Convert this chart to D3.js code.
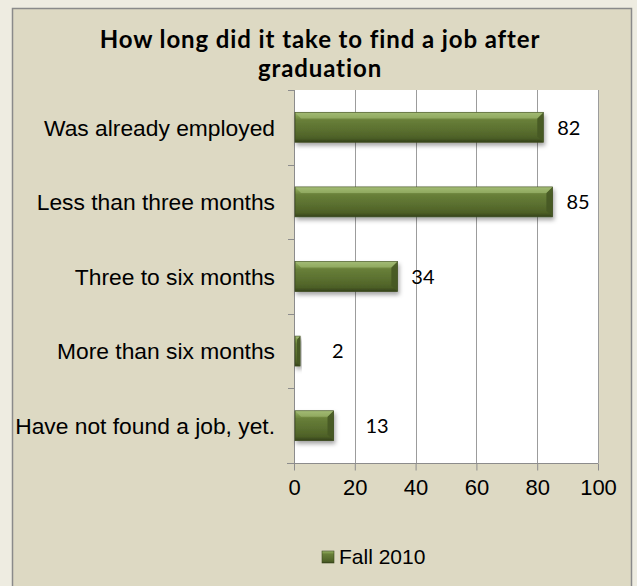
<!DOCTYPE html>
<html>
<head>
<meta charset="utf-8">
<script src="https://cdn.jsdelivr.net/npm/d3@7.9.0/dist/d3.min.js"></script>
<style>
  html, body { margin: 0; padding: 0; background: #eeece1; }
  svg { display: block; }
</style>
</head>
<body>
<svg id="chart" width="637" height="586"></svg>
<script>
// chart data
const categories = [
  "Was already employed",
  "Less than three months",
  "Three to six months",
  "More than six months",
  "Have not found a job, yet."
];
const values = [82, 85, 34, 2, 13];
const xTicks = [0, 20, 40, 60, 80, 100];
const seriesName = "Fall 2010";
const titleLines = ["How long did it take to find a job after", "graduation"];

const svg = d3.select("#chart");

// plot area
const plot = { left: 294, right: 598, top: 90, bottom: 463 };

const defs = svg.append("defs");

let grad = defs.append("linearGradient")
    .attr("id", "barGrad")
    .attr("x1", 0).attr("y1", 0).attr("x2", 0).attr("y2", 1);
grad.append("stop").attr("offset", "0%").attr("stop-color", "#9bb46e");
grad.append("stop").attr("offset", "14%").attr("stop-color", "#7f9a4c");
grad.append("stop").attr("offset", "26%").attr("stop-color", "#687f39");
grad.append("stop").attr("offset", "60%").attr("stop-color", "#5a6f2f");
grad.append("stop").attr("offset", "86%").attr("stop-color", "#4d6027");
grad.append("stop").attr("offset", "100%").attr("stop-color", "#34411a");

let shadow = defs.append("filter")
    .attr("id", "shadow")
    .attr("x", "-10%").attr("y", "-30%")
    .attr("width", "130%").attr("height", "180%");
shadow.append("feDropShadow")
    .attr("dx", 1.5).attr("dy", 3)
    .attr("stdDeviation", 2)
    .attr("flood-color", "#000")
    .attr("flood-opacity", 0.35);

// chart box
svg.append("rect")
    .attr("x", 12.5).attr("y", 8.5)
    .attr("width", 619).attr("height", 600)
    .attr("fill", "#ddd9c3")
    .attr("stroke", "#8a8a8a")
    .attr("stroke-width", 1.5);

// title
svg.append("text")
    .attr("x", 320)
    .attr("text-anchor", "middle")
    .style("font-family", "Lato, 'Open Sans', sans-serif")
    .style("font-weight", "bold")
    .style("font-size", "24px")
    .style("letter-spacing", "0.9px")
    .attr("fill", "#000")
    .selectAll("tspan")
    .data(titleLines)
    .join("tspan")
    .attr("x", 320)
    .attr("y", (d, i) => 48 + i * 29)
    .text(d => d);

// scales
let x = d3.scaleLinear()
    .domain([xTicks[0], xTicks[xTicks.length - 1]])
    .range([plot.left, plot.right]);

let y = d3.scaleBand()
    .domain(categories)
    .range([plot.top, plot.bottom])
    .paddingInner(0.6)
    .paddingOuter(0.3);

// plot background
svg.append("rect")
    .attr("x", plot.left).attr("y", plot.top)
    .attr("width", plot.right - plot.left)
    .attr("height", plot.bottom - plot.top)
    .attr("fill", "#ffffff");

// gridlines
svg.append("g")
    .selectAll("line")
    .data(xTicks.slice(1))
    .join("line")
    .attr("x1", d => Math.round(x(d)) + 0.5)
    .attr("x2", d => Math.round(x(d)) + 0.5)
    .attr("y1", plot.top)
    .attr("y2", plot.bottom)
    .attr("stroke", "#9c9c9c")
    .attr("stroke-width", 1);

// bottom axis
let xAxis = d3.axisBottom(x)
    .tickValues(xTicks)
    .tickSize(7)
    .tickPadding(9);

let gx = svg.append("g")
    .attr("transform", `translate(0,${plot.bottom + 0.5})`)
    .call(xAxis);
gx.select(".domain").attr("stroke", "#8c8c8c").attr("d", `M${plot.left - 7},0H${plot.right}`);
gx.selectAll(".tick line").attr("stroke", "#8c8c8c");
gx.selectAll(".tick text")
    .style("font-family", "'Liberation Sans', Arial, sans-serif")
    .style("font-size", "22px")
    .attr("fill", "#000");

// left axis with ticks at category boundaries
let step = y.step();
let boundaries = d3.range(categories.length + 1)
    .map(i => y(categories[0]) - step * y.paddingInner() / 2 + i * step);

svg.append("line")
    .attr("x1", plot.left + 0.5).attr("x2", plot.left + 0.5)
    .attr("y1", plot.top).attr("y2", plot.bottom)
    .attr("stroke", "#8c8c8c");

svg.append("g")
    .selectAll("line")
    .data(boundaries)
    .join("line")
    .attr("x1", plot.left - 6)
    .attr("x2", plot.left)
    .attr("y1", d => Math.round(d) + 0.5)
    .attr("y2", d => Math.round(d) + 0.5)
    .attr("stroke", "#8c8c8c");

svg.append("g")
    .selectAll("text")
    .data(categories)
    .join("text")
    .attr("x", plot.left - 19)
    .attr("y", d => y(d) + y.bandwidth() / 2)
    .attr("dy", "0.36em")
    .attr("text-anchor", "end")
    .style("font-family", "'Liberation Sans', Arial, sans-serif")
    .style("font-size", "22.8px")
    .attr("fill", "#000")
    .text(d => d);

// bars
let bars = svg.append("g")
    .selectAll("g")
    .data(categories)
    .join("g");

const bh = y.bandwidth();
const bev = 6;

bars.append("rect")
    .attr("x", plot.left + 1)
    .attr("y", d => y(d))
    .attr("width", (d, i) => x(values[i]) - plot.left - 1)
    .attr("height", bh)
    .attr("fill", "url(#barGrad)")
    .attr("stroke", "#3c4a1e")
    .attr("stroke-width", 0.8)
    .attr("filter", "url(#shadow)");

// bevel edges at the bar end
bars.append("path")
    .attr("d", (d, i) => {
        let x1 = x(values[i]);
        let b = Math.min(bev, (x1 - plot.left) / 2);
        let y0 = y(d);
        return `M${x1},${y0}L${x1 - b},${y0 + b}L${x1 - b},${y0 + bh - b}L${x1},${y0 + bh}Z`;
    })
    .attr("fill", "#465824")
    .attr("opacity", 0.9);

bars.append("path")
    .attr("d", (d, i) => {
        let x1 = x(values[i]);
        let b = Math.min(bev, (x1 - plot.left) / 2);
        let y0 = y(d);
        return `M${plot.left + 1},${y0}L${x1},${y0}L${x1 - b},${y0 + b}L${plot.left + 1 + b},${y0 + b}Z`;
    })
    .attr("fill", "#a8c07a")
    .attr("opacity", 0.55);

// value labels
svg.append("g")
    .selectAll("text")
    .data(values)
    .join("text")
    .attr("x", d => x(d) + (d < 15 ? 32 : 14))
    .attr("y", (d, i) => y(categories[i]) + bh / 2)
    .attr("dy", "0.36em")
    .style("font-family", "Lato, 'Open Sans', sans-serif")
    .style("font-size", "20px")
    .attr("fill", "#000")
    .text(d => d);

// legend
let legend = svg.append("g")
    .attr("transform", "translate(322,551)");
legend.append("rect")
    .attr("width", 12).attr("height", 12)
    .attr("fill", "url(#barGrad)")
    .attr("stroke", "#3c4a1e")
    .attr("stroke-width", 0.6);
legend.append("text")
    .attr("x", 17)
    .attr("y", 13)
    .style("font-family", "'Liberation Sans', Arial, sans-serif")
    .style("font-size", "21px")
    .attr("fill", "#000")
    .text(seriesName);
</script>
</body>
</html>
